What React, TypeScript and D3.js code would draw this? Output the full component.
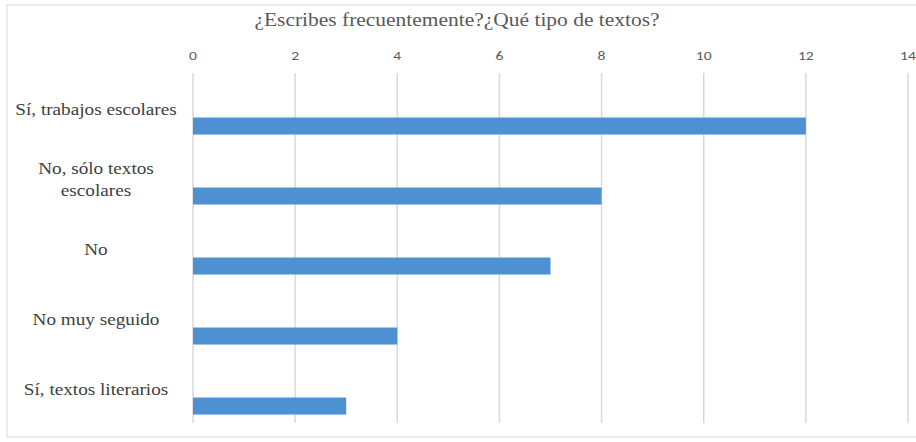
import React from "react";
import * as d3 from "d3";

const categories = [
  "Sí, trabajos escolares",
  "No, sólo textos escolares",
  "No",
  "No muy seguido",
  "Sí, textos literarios",
];
const values = [12, 8, 7, 4, 3];
const tickValues = [0, 2, 4, 6, 8, 10, 12, 14];
const labelLines: Record<string, string[]> = {
  "No, sólo textos escolares": ["No, sólo textos", "escolares"],
};
const title = "¿Escribes frecuentemente?¿Qué tipo de textos?";

export default function App() {
  const W = 916;
  const H = 442;
  const x = d3.scaleLinear().domain([0, 14]).range([193, 908]);
  const y = d3.scaleBand<string>().domain(categories).range([73, 423]);
  const bw = y.bandwidth();
  const serif = "'Liberation Serif', 'DejaVu Serif', serif";
  const sans = "Carlito, 'Liberation Sans', 'DejaVu Sans', sans-serif";
  return (
    <svg
      width={W}
      height={H}
      style={{ position: "absolute", left: 0, top: 0, background: "#fff" }}
    >
      <rect x={7} y={5} width={W} height={432} fill="#fff" stroke="#d9d9d9" strokeWidth={1} />
      <text
        transform="translate(457,26) scale(1.13,1)"
        textAnchor="middle"
        fontFamily={serif}
        fontSize={19}
        fill="#595959"
      >
        {title}
      </text>
      {tickValues.map((t) => (
        <g key={t}>
          <line
            x1={x(t)}
            x2={x(t)}
            y1={73}
            y2={423}
            stroke="#d9d9d9"
            strokeWidth={1.5}
          />
          <text
            transform={`translate(${x(t)},60) scale(1.2,1)`}
            textAnchor="middle"
            fontFamily={sans}
            fontSize={13}
            fill="#595959"
          >
            {t}
          </text>
        </g>
      ))}
      {categories.map((c, i) => {
        const by = (y(c) as number) + bw * 0.636;
        const bh = bw * 0.243;
        const lines = labelLines[c] || [c];
        const cy = (y(c) as number) + bw / 2 + 1.5;
        const lh = 22;
        return (
          <g key={c}>
            <rect
              x={x(0)}
              y={by}
              width={x(values[i]) - x(0)}
              height={bh}
              fill="#4e91d2"
            />
            {lines.map((l, k) => (
              <text
                key={k}
                transform={`translate(96,${cy + (k - (lines.length - 1) / 2) * lh}) scale(1.2,1)`}
                dy="0.35em"
                textAnchor="middle"
                fontFamily={serif}
                fontSize={16}
                fill="#404040"
              >
                {l}
              </text>
            ))}
          </g>
        );
      })}
    </svg>
  );
}
